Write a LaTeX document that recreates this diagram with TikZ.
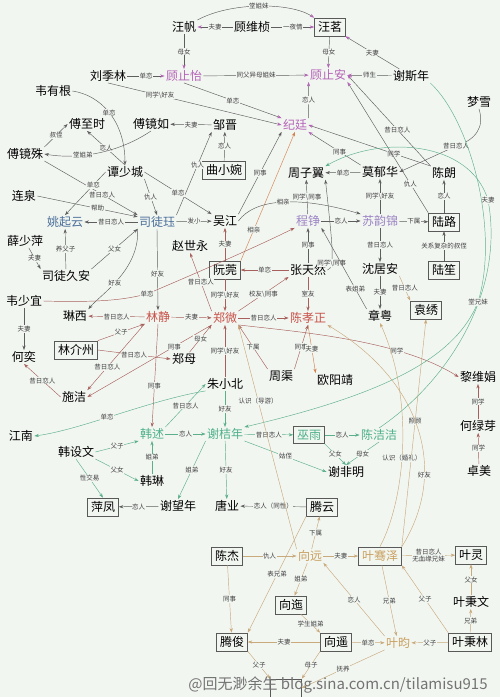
\documentclass[tikz,border=0pt]{standalone}
\usepackage{fontspec}
\setmainfont{Noto Sans CJK SC}
\usetikzlibrary{arrows.meta}
\definecolor{bg}{HTML}{F2F6F1}
\definecolor{cpur}{HTML}{B563B8}
\definecolor{clav}{HTML}{9C84C4}
\definecolor{cblu}{HTML}{4A6E98}
\definecolor{cred}{HTML}{C8524A}
\definecolor{cgrn}{HTML}{4DB08A}
\definecolor{ctan}{HTML}{C9A060}
\definecolor{lgray}{HTML}{5E5E5E}
\definecolor{lred}{HTML}{A8605C}
\definecolor{lgrn}{HTML}{5BB08A}
\definecolor{ltan}{HTML}{C9AA7C}
\tikzset{
  nm/.style={font=\fontsize{12}{12}\selectfont, inner sep=1.2pt},
  bx/.style={nm, draw=black!65, line width=0.6pt, inner sep=3.5pt},
  pur/.style={text=cpur}, lav/.style={text=clav}, blu/.style={text=cblu}, rd/.style={text=cred},
  grn/.style={text=cgrn}, tn/.style={text=ctan},
  lab/.style={font=\fontsize{6.5}{7}\selectfont, fill=bg, inner sep=0.6pt, text=black!75},
  e/.style={-{Stealth[length=4.5pt,width=3.2pt]}, line width=0.45pt, draw=lgray},
  ep/.style={e, -{Stealth[length=4.5pt,width=3.2pt,color=cpur]}},
  er/.style={-{Stealth[length=4.5pt,width=3.2pt]}, line width=0.45pt, draw=lred},
  eo/.style={-{Stealth[length=4.5pt,width=3.2pt]}, line width=0.45pt, draw=ctan!80!red},
  eg/.style={-{Stealth[length=4.5pt,width=3.2pt]}, line width=0.45pt, draw=lgrn},
  et/.style={-{Stealth[length=4.5pt,width=3.2pt]}, line width=0.45pt, draw=ltan},
}
\begin{document}
\begin{tikzpicture}[x=1pt,y=-1pt]
\fill[bg] (0,0) rectangle (500,697);
\useasboundingbox (0,0) rectangle (500,697);
% nodes
\node[nm] (wangfan) at (184,27) {汪帆};
\node[nm] (guweizhen) at (252,27) {顾维桢};
\node[bx] (wangming) at (330,27) {汪茗};
\node[nm,pur] (guzhiyi) at (184,76) {顾止怡};
\node[nm,pur] (guzhian) at (328,75) {顾止安};
\node[nm] (liujilin) at (108,76) {刘季林};
\node[nm] (xiesinian) at (411,76) {谢斯年};
\node[nm] (weiyougen) at (53,91) {韦有根};
\node[nm] (mengxue) at (479,102) {梦雪};
\node[nm] (fuzhishi) at (87,124) {傅至时};
\node[nm] (fujingru) at (151,124) {傅镜如};
\node[nm] (zoujin) at (225,125) {邹晋};
\node[nm,pur] (jiting) at (295,125) {纪廷};
\node[nm] (fujingshu) at (25,154) {傅镜殊};
\node[nm] (tanshaocheng) at (125,172) {谭少城};
\node[bx] (quxiaowan) at (224,170) {曲小婉};
\node[nm] (zhouziyi) at (306,173) {周子翼};
\node[nm] (moyuhua) at (380,172) {莫郁华};
\node[nm] (chenlang) at (444,173) {陈朗};
\node[nm] (lianquan) at (24,196) {连泉};
\node[nm,blu] (yaoqiyun) at (65,222) {姚起云};
\node[nm,blu] (situjue) at (157,222) {司徒珏};
\node[nm] (wujiang) at (225,221) {吴江};
\node[nm,lav] (chengzheng) at (308,221) {程铮};
\node[nm,lav] (suyunjin) at (380,221) {苏韵锦};
\node[bx] (lulu) at (444,222) {陆路};
\node[nm] (xueshaoping) at (25,241) {薛少萍};
\node[nm] (zhaoshiyong) at (190,246) {赵世永};
\node[nm] (situjiuan) at (66,276) {司徒久安};
\node[bx] (ruanwan) at (225,270) {阮莞};
\node[nm] (zhangtianran) at (308,270) {张天然};
\node[nm] (shenjuan) at (380,269) {沈居安};
\node[bx] (lusheng) at (444,270) {陆笙};
\node[nm] (weishaoyi) at (24,301) {韦少宜};
\node[nm] (linxi) at (75,316) {琳西};
\node[nm,rd] (linjing) at (158,317) {林静};
\node[nm,rd] (zhengwei) at (225,318) {郑微};
\node[nm,rd] (chenxiaozheng) at (308,318) {陈孝正};
\node[nm] (zhangyue) at (380,316) {章粤};
\node[bx] (yuanxiu) at (426,310) {袁绣};
\node[nm] (heyi) at (24,357) {何奕};
\node[bx] (linjiezhou) at (76,350) {林介州};
\node[nm] (zhengmu) at (184,359) {郑母};
\node[nm] (zhouqu) at (281,376) {周渠};
\node[nm] (ouyangjing) at (335,380) {欧阳靖};
\node[nm] (liweijuan) at (478,377) {黎维娟};
\node[nm] (zhuxiaobei) at (225,384) {朱小北};
\node[nm] (shijie) at (74,397) {施洁};
\node[nm] (jiangnan) at (21,436) {江南};
\node[nm,grn] (hanshu) at (152,434) {韩述};
\node[nm,grn] (xiejienian) at (225,434) {谢桔年};
\node[bx,grn] (wuyu) at (309,435) {巫雨};
\node[nm,grn] (chenjiejie) at (379,435) {陈洁洁};
\node[nm] (helvya) at (478,426) {何绿芽};
\node[nm] (hanshewen) at (76,452) {韩设文};
\node[nm] (hanlin) at (152,481) {韩琳};
\node[nm] (xiefeiming) at (346,472) {谢非明};
\node[nm] (zhuomei) at (479,471) {卓美};
\node[bx] (pingfeng) at (103,507) {萍凤};
\node[nm] (xiewangnian) at (178,506) {谢望年};
\node[nm] (tangye) at (227,506) {唐业};
\node[bx] (tengyun) at (322,507) {腾云};
\node[bx] (chenjie) at (227,556) {陈杰};
\node[nm,tn] (xiangyuan) at (310,556) {向远};
\node[bx,tn] (yeqianze) at (380,556) {叶骞泽};
\node[bx] (yeling) at (471,555) {叶灵};
\node[bx] (xiangyi) at (291,605) {向迤};
\node[nm] (yebingwen) at (471,602) {叶秉文};
\node[bx] (tengjun) at (232,642) {腾俊};
\node[bx] (xiangyao) at (336,642) {向遥};
\node[nm,tn] (yeyun) at (398,643) {叶昀};
\node[bx] (yebinglin) at (470,642) {叶秉林};
\node[bx] (bottombox) at (286,688) {\phantom{腾俊}};
% top edges
\draw[ep] (wangfan.north east) .. controls (230,2) and (290,2) .. node[lab]{堂姐妹} (wangming.north west);
\draw[ep] (guweizhen) -- node[lab]{夫妻} (wangfan);
\draw[ep] (guweizhen) -- node[lab]{一夜情} (wangming);
\draw[ep] (wangfan) -- node[lab]{母女} (guzhiyi);
\draw[ep] (wangming) -- node[lab]{母女} (guzhian);
\draw[ep] (guzhiyi) -- node[lab]{同父异母姐妹} (guzhian);
\draw[ep] (liujilin) -- node[lab]{单恋} (guzhiyi);
\draw[ep] (xiesinian) -- node[lab]{夫妻} (wangming);
\draw[ep] (xiesinian) -- node[lab]{师生} (guzhian);
\draw[ep] (guzhiyi.south) -- node[lab]{单恋} (jiting.north west);
\draw[ep] (jiting.north east) -- node[lab]{恋人} (guzhian.south west);
\draw[ep] (liujilin.south) -- node[lab,pos=0.3]{同学\textbackslash 好友} (jiting.west);
\draw[ep] (chenlang.north west) -- node[lab,pos=0.4]{昔日恋人} (guzhian.east);
\draw[ep] (chenlang.north west) -- node[lab,pos=0.3]{同学} (jiting.east);
\draw[ep] (moyuhua.north west) -- node[lab,pos=0.4]{同事} (jiting.south east);
\draw[ep] (lulu.north west) -- node[lab,pos=0.22]{仇人} (guzhian.south east);
\draw[e] (mengxue.south) .. controls (485,128) and (475,140) .. (456,146) node[lab]{昔日恋人} -- (moyuhua.east);
% fu family
\draw[e] (weiyougen.east) .. controls (100,95) and (125,120) .. node[lab]{单恋} (tanshaocheng.north);
\draw[e] (fujingshu.north east) -- node[lab]{叔侄} (fuzhishi.west);
\draw[e] (tanshaocheng.north) -- node[lab]{恋人} (fuzhishi.south);
\draw[e] (fujingru.south) .. controls (120,152) and (80,160) .. node[lab,pos=0.65]{堂姐弟} (fujingshu.east);
\draw[e] (zoujin) -- node[lab]{夫妻} (fujingru);
\draw[e] (quxiaowan) -- node[lab]{恋人} (zoujin);
\draw[e] (situjue.north east) -- node[lab,pos=0.6]{仇人} (zoujin.south west);
\draw[e] (wujiang.north east) -- node[lab]{同事} (jiting.south west);
\draw[eo] (ruanwan.north east) -- node[lab,pos=0.24]{相亲} (jiting.south);
\draw[e] (wujiang.east) .. controls (255,198) and (300,196) .. node[lab]{相亲} (suyunjin.north west);
% situ
\draw[e] (lianquan.east) -- node[lab,pos=0.6]{帮助} (situjue.165);
\draw[e] (fujingshu.south east) -- node[lab,pos=0.62]{昔日恋人} (situjue.north west);
\draw[e] (tanshaocheng.west) -- node[lab,pos=0.3]{单恋} (yaoqiyun.north);
\draw[e] (tanshaocheng.south east) -- node[lab]{仇人} (situjue.north);
\draw[e] (tanshaocheng.east) -- node[lab]{单恋} (wujiang.north west);
\draw[e] (situjue) -- node[lab]{昔日恋人} (yaoqiyun);
\draw[e] (situjue) -- node[lab]{发小} (wujiang);
\draw[e] (situjiuan) -- node[lab]{养父子} (yaoqiyun);
\draw[e] (xueshaoping) -- node[lab]{夫妻} (situjiuan.north west);
\draw[e] (situjiuan.north east) -- node[lab]{父女} (situjue.south west);
\draw[e] (situjue.south west) .. controls (140,270) and (100,295) .. node[lab,pos=0.55]{好友} (linxi.north east);
\draw[e] (situjue.south) -- node[lab,pos=0.55]{好友} (linjing.north);
\draw[er] (weishaoyi.east) .. controls (110,303) and (130,298) .. (147,294) node[lab]{单恋} .. controls (180,280) and (250,250) .. (chengzheng.south west);
\draw[e] (weishaoyi) -- node[lab]{夫妻} (heyi);
% zheng wei
\draw[er] (linjing) -- node[lab]{昔日恋人} (linxi);
\draw[er] (linjiezhou.north east) -- node[lab]{父子} (linjing.south west);
\draw[er] (linjiezhou.east) -- node[lab]{昔日恋人} (zhengmu.west);
\draw[er] (linjing.south west) -- node[lab,pos=0.65]{昔日恋人} (shijie.north east);
\draw[er] (zhengwei.south west) -- node[lab,pos=0.3]{同事} (shijie.east);
\draw[er] (shijie.west) -- node[lab]{昔日恋人} (heyi.south);
\draw[er] (linjing.south) -- node[lab,pos=0.6]{同事} (hanshu.north);
\draw[er] (linjing) -- node[lab]{夫妻} (zhengwei);
\draw[er] (zhengwei) -- node[lab]{昔日恋人} (chenxiaozheng);
\draw[er] (zhangtianran) -- node[lab]{单恋} (ruanwan);
\draw[er] (ruanwan) -- node[lab]{夫妻} (wujiang);
\draw[er] (ruanwan) -- node[lab]{同学\textbackslash 好友} (zhengwei);
\draw[er] (zhengwei.north east) -- node[lab]{校友\textbackslash 同事} (zhangtianran.south west);
\draw[er] (zhangtianran) -- node[lab]{室友} (chenxiaozheng);
\draw[e] (zhangtianran) -- node[lab]{同事} (chengzheng);
\draw[e] (zhangtianran.east) .. controls (335,268) and (333,250) .. node[lab,pos=0.3]{同学\textbackslash 同事} (zhouziyi.south east);
\draw[e] (zhangyue.north west) -- node[lab,pos=0.25]{表姐弟} (chengzheng.south east);
\draw[er] (zhengwei.north west) -- node[lab]{昔日恋人} (zhaoshiyong.south);
\draw[er] (zhengmu) -- node[lab]{母女} (zhengwei.south west);
\draw[er] (zhouqu.north west) -- node[lab]{下属} (zhengwei.south east);
\draw[er] (zhouqu.north east) -- node[lab]{同事} (chenxiaozheng.south);
\draw[eo] (chenxiaozheng.south) -- node[lab]{夫妻} (ouyangjing.north west);
\draw[er] (zhengwei.south east) .. controls (300,332) and (400,340) .. node[lab,pos=0.7]{同学} (liweijuan.west);
\draw[er] (helvya) -- node[lab]{同学} (liweijuan);
\draw[er] (zhuomei) -- node[lab]{同学} (helvya);
\draw[er] (zhuxiaobei) -- node[lab]{同学\textbackslash 好友} (zhengwei);
% xu wo
\draw[eg] (zhuxiaobei) -- node[lab]{好友} (xiejienian);
\draw[eg] (hanshu.north east) -- node[lab]{昔日恋人} (zhuxiaobei.west);
\draw[eg] (zhuxiaobei.south west) .. controls (150,400) and (80,430) .. node[lab,pos=0.55]{单恋} (jiangnan.east);
\draw[eg] (hanshu) -- node[lab]{恋人} (xiejienian);
\draw[eg] (xiejienian) -- node[lab]{昔日恋人} (wuyu);
\draw[eg] (wuyu) -- node[lab]{恋人} (chenjiejie);
\draw[eg] (wuyu.south east) -- node[lab]{父女} (xiefeiming.north);
\draw[eg] (chenjiejie.south) -- node[lab]{母女} (xiefeiming.north);
\draw[eg] (xiejienian.south east) -- node[lab]{姑侄} (xiefeiming.west);
\draw[eg] (xiejienian.south west) -- node[lab]{姐弟} (xiewangnian.north);
\draw[eg] (xiejienian) -- node[lab]{好友} (tangye);
\draw[e] (tengyun) -- node[lab]{恋人（同性）} (tangye);
\draw[e] (xiewangnian) -- node[lab]{恋人} (pingfeng);
\draw[eg] (hanshewen.south) -- node[lab]{性交易} (pingfeng.north);
\draw[eg] (hanshewen.east) -- node[lab]{父子} (hanshu.south west);
\draw[eg] (hanshewen.south east) -- node[lab]{父女} (hanlin.west);
\draw[eg] (hanlin) -- node[lab]{姐弟} (hanshu);
\draw[eg] (chenjiejie.north) .. controls (450,380) and (505,290) .. (488,200) node[lab]{夫妻} .. controls (470,140) and (380,135) .. (zhouziyi.north east);
\draw[eg] (xiesinian.south east) .. controls (470,120) and (500,230) .. (478,302) node[lab]{堂兄妹} .. controls (455,360) and (380,395) .. (xiejienian.north east);
% right middle
\draw[e] (suyunjin) -- node[lab]{同学\textbackslash 好友} (moyuhua);
\draw[e] (moyuhua) -- node[lab]{单恋} (zhouziyi);
\draw[e] (chengzheng) -- node[lab]{同学\textbackslash 同事} (zhouziyi);
\draw[e] (chengzheng) -- node[lab]{恋人} (suyunjin.west);
\draw[e] (suyunjin) -- node[lab]{下属} (lulu);
\draw[e] (suyunjin) -- node[lab]{昔日恋人} (shenjuan);
\draw[e] (shenjuan) -- node[lab]{夫妻} (zhangyue);
\draw[e] (lulu) -- node[lab]{恋人} (chenlang);
\draw[e] (lusheng) -- node[lab]{关系复杂的叔侄} (lulu);
\draw[et] (shenjuan.south east) -- node[lab]{昔日恋人} (yuanxiu.north west);
% bottom
\draw[et] (xiangyuan) -- node[lab]{下属} (tengyun);
\draw[et] (chenjie) -- node[lab]{仇人} (xiangyuan);
\draw[et] (chenjie) -- node[lab]{同事} (tengjun);
\draw[et] (xiangyuan) -- node[lab]{姐弟} (xiangyi);
\draw[et] (xiangyuan) -- node[lab]{夫妻} (yeqianze);
\draw[et] (yeqianze) -- node[lab,align=center]{昔日恋人\\无血缘兄妹} (yeling);
\draw[et] (yebingwen) -- node[lab]{父女} (yeling);
\draw[et] (yebinglin) -- node[lab]{兄弟} (yebingwen);
\draw[et] (yebinglin.north west) -- node[lab]{父子} (yeqianze.south east);
\draw[et] (yebinglin) -- node[lab]{父子} (yeyun);
\draw[et] (yeqianze) -- node[lab]{兄弟} (yeyun);
\draw[et] (yeyun.north west) -- node[lab]{恋人} (xiangyuan.south east);
\draw[et] (xiangyi) -- node[lab]{学生姐弟} (xiangyao.north west);
\draw[et] (xiangyao) -- node[lab]{夫妻} (tengjun);
\draw[et] (xiangyao) -- node[lab]{单恋} (yeyun);
\draw[et] (tengjun.south east) -- node[lab]{父子} (bottombox.north west);
\draw[et] (xiangyao.south west) -- node[lab]{母子} (bottombox.north east);
\draw[et] (yeyun.south west) -- node[lab]{抚养} (bottombox.east);
\draw[et] (tengyun.south west) -- node[lab]{表兄弟} (tengjun.north east);
\draw[et] (xiangyuan.north west) -- node[lab,pos=0.66]{认识（导游）} (zhengwei.south east);
\draw[et] (yeqianze.north east) -- node[lab,pos=0.55]{照顾} (yuanxiu.south);
\draw[et] (yeqianze.north) .. controls (405,500) and (415,400) .. node[lab,pos=0.45]{认识（婚礼）} (zhangyue.south);
\draw[et] (yeqianze.north east) .. controls (450,470) and (420,380) .. node[lab,pos=0.3]{好友} (chenxiaozheng.south east);
\node[text=black!55, font=\fontsize{15}{15}\selectfont] (wm) at (338,685) {@回无渺余生 blog.sina.com.cn/tilamisu915};
\end{tikzpicture}
\end{document}
